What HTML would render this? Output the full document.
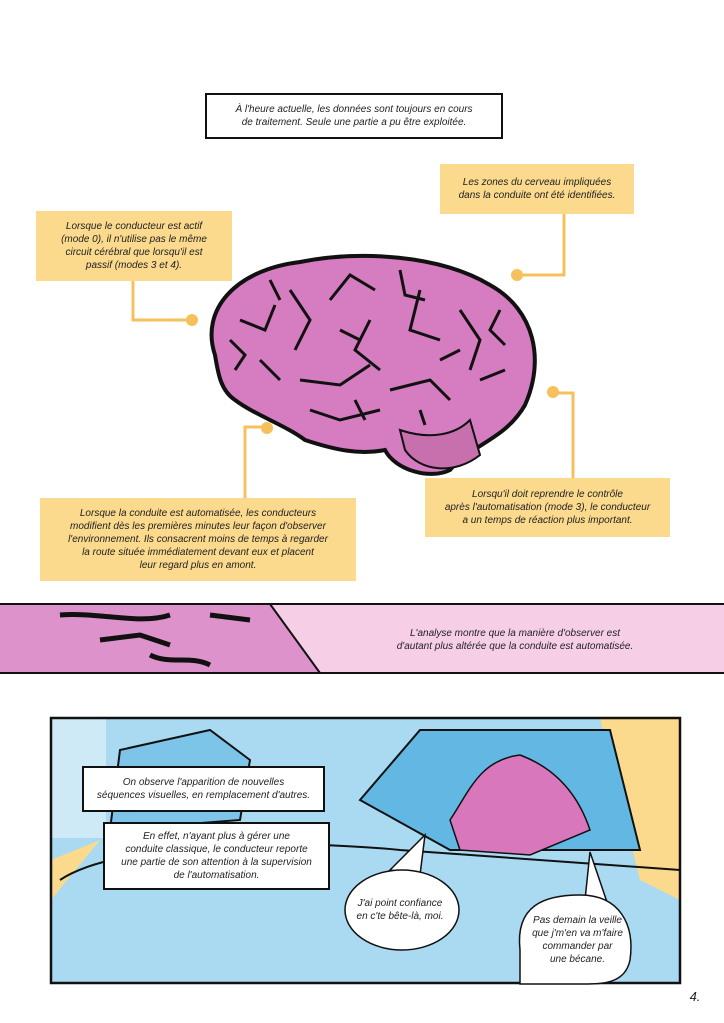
<!DOCTYPE html>
<html><head><meta charset="utf-8"><style>
body{margin:0;width:724px;height:1023px;background:#fff;position:relative;overflow:hidden;font-family:"Liberation Sans",sans-serif;font-style:italic;color:#222}
.b{position:absolute;font-size:10px;line-height:13px;text-align:center;display:flex;align-items:center;justify-content:center;box-sizing:border-box}
.y{background:#fbd98d}
.w{background:#fff;border:2.5px solid #111}
svg{position:absolute;left:0;top:0}
</style></head><body>
<svg width="724" height="1023">
 <path d="M215,355 C200,310 235,270 300,262 C360,250 440,255 490,285 C535,310 545,360 525,405 C505,440 470,445 450,470 C430,480 395,470 385,450 C360,455 335,450 305,440 C285,425 255,415 235,400 C220,390 218,372 215,355Z" fill="#d67cc0" stroke="#111" stroke-width="4"/>
 <path d="M240,320 l25,10 l10,-25 M290,290 l20,30 l-15,30 M330,300 l20,-25 l25,15 M370,320 l-15,30 l25,20 M420,290 l-10,40 l30,10 M460,310 l20,30 l-10,30 M300,380 l40,5 l30,-20 M390,390 l40,-10 l20,20 M260,360 l20,20 M480,380 l25,-10 M310,410 l30,10 l40,-10 M230,340 l15,15 l-10,15 M400,270 l5,25 l20,5 M500,310 l-10,20 l15,15 M340,330 l20,10 M440,360 l20,-10 M270,280 l10,20 M355,400 l10,20 M420,410 l5,15" fill="none" stroke="#111" stroke-width="3"/>
 <path d="M400,430 C430,440 455,435 470,420 L480,455 C455,475 420,472 405,450Z" fill="#c870ad" stroke="#111" stroke-width="2"/>
 <g fill="none" stroke="#f6c15c" stroke-width="3">
  <path d="M133,281 V320 H190"/><path d="M564,214 V275 H518"/>
  <path d="M245,498 V427 H265"/><path d="M573,478 V393 H555"/>
 </g>
 <g fill="#f6c15c"><circle cx="192" cy="320" r="6"/><circle cx="517" cy="275" r="6"/><circle cx="267" cy="428" r="6"/><circle cx="553" cy="392" r="6"/></g>
 <rect x="0" y="604" width="724" height="69" fill="#f6cfe7"/>
 <path d="M0,604 H270 L320,673 H0Z" fill="#de92cb"/>
 <path d="M60,615 C100,612 140,625 170,615 M100,640 l40,-5 l30,10 M210,615 l40,5 M150,655 c20,10 40,0 60,10" stroke="#111" stroke-width="5" fill="none"/>
 <path d="M270,604 L320,673" stroke="#111" stroke-width="2"/>
 <line x1="0" y1="604" x2="724" y2="604" stroke="#111" stroke-width="2"/>
 <line x1="0" y1="673" x2="724" y2="673" stroke="#111" stroke-width="2"/>
 <rect x="51" y="718" width="629" height="265" fill="#a9daf1"/>
 <rect x="51" y="718" width="55" height="120" fill="#cfeaf7"/>
 <path d="M600,718 H680 V900 L640,880 L620,800Z" fill="#fbd98d"/>
 <path d="M51,860 L100,840 L51,900Z" fill="#fbd98d"/>
 <path d="M360,800 L420,730 L610,730 L640,850 L450,850Z" fill="#62b8e3" stroke="#111" stroke-width="2"/>
 <path d="M120,750 L210,730 L250,760 L240,820 L110,830Z" fill="#7cc5e8" stroke="#111" stroke-width="2"/>
 <path d="M450,820 C470,790 480,760 520,755 C560,770 580,800 590,830 L530,855 L460,850Z" fill="#d877bb" stroke="#111" stroke-width="1.5"/>
 <path d="M60,880 C120,840 300,840 400,850 L680,870" fill="none" stroke="#111" stroke-width="2"/>
 <rect x="51" y="718" width="629" height="265" fill="none" stroke="#111" stroke-width="2.5"/>
 <path d="M390,870 L425,835 L420,875Z" fill="#fff" stroke="#111" stroke-width="1.5"/>
 <ellipse cx="402" cy="910" rx="57" ry="40" fill="#fff" stroke="#111" stroke-width="1.5"/>
 <path d="M585,900 L590,852 L608,905Z" fill="#fff" stroke="#111" stroke-width="1.5"/>
 <path d="M520,950 C515,905 545,895 580,895 C620,895 635,925 630,960 C625,985 600,984 580,984 L520,984Z" fill="#fff" stroke="#111" stroke-width="1.5"/>
</svg>
<div class="b w" style="left:205px;top:93px;width:298px;height:46px">À l'heure actuelle, les données sont toujours en cours<br>de traitement. Seule une partie a pu être exploitée.</div>
<div class="b y" style="left:440px;top:164px;width:194px;height:50px">Les zones du cerveau impliquées<br>dans la conduite ont été identifiées.</div>
<div class="b y" style="left:36px;top:211px;width:196px;height:70px">Lorsque le conducteur est actif<br>(mode 0), il n'utilise pas le même<br>circuit cérébral que lorsqu'il est<br>passif (modes 3 et 4).</div>
<div class="b y" style="left:40px;top:498px;width:316px;height:83px">Lorsque la conduite est automatisée, les conducteurs<br>modifient dès les premières minutes leur façon d'observer<br>l'environnement. Ils consacrent moins de temps à regarder<br>la route située immédiatement devant eux et placent<br>leur regard plus en amont.</div>
<div class="b y" style="left:425px;top:478px;width:245px;height:59px">Lorsqu'il doit reprendre le contrôle<br>après l'automatisation (mode 3), le conducteur<br>a un temps de réaction plus important.</div>
<div class="b" style="left:370px;top:625px;width:290px;height:30px">L'analyse montre que la manière d'observer est<br>d'autant plus altérée que la conduite est automatisée.</div>
<div class="b w" style="left:82px;top:766px;width:243px;height:46px">On observe l'apparition de nouvelles<br>séquences visuelles, en remplacement d'autres.</div>
<div class="b w" style="left:103px;top:822px;width:227px;height:68px">En effet, n'ayant plus à gérer une<br>conduite classique, le conducteur reporte<br>une partie de son attention à la supervision<br>de l'automatisation.</div>
<div class="b" style="left:350px;top:895px;width:100px;height:30px">J'ai point confiance<br>en c'te bête-là, moi.</div>
<div class="b" style="left:530px;top:910px;width:95px;height:60px">Pas demain la veille<br>que j'm'en va m'faire<br>commander par<br>une bécane.</div>
<div class="b" style="left:680px;top:988px;width:30px;height:16px;font-size:13px">4.</div>
</body></html>
